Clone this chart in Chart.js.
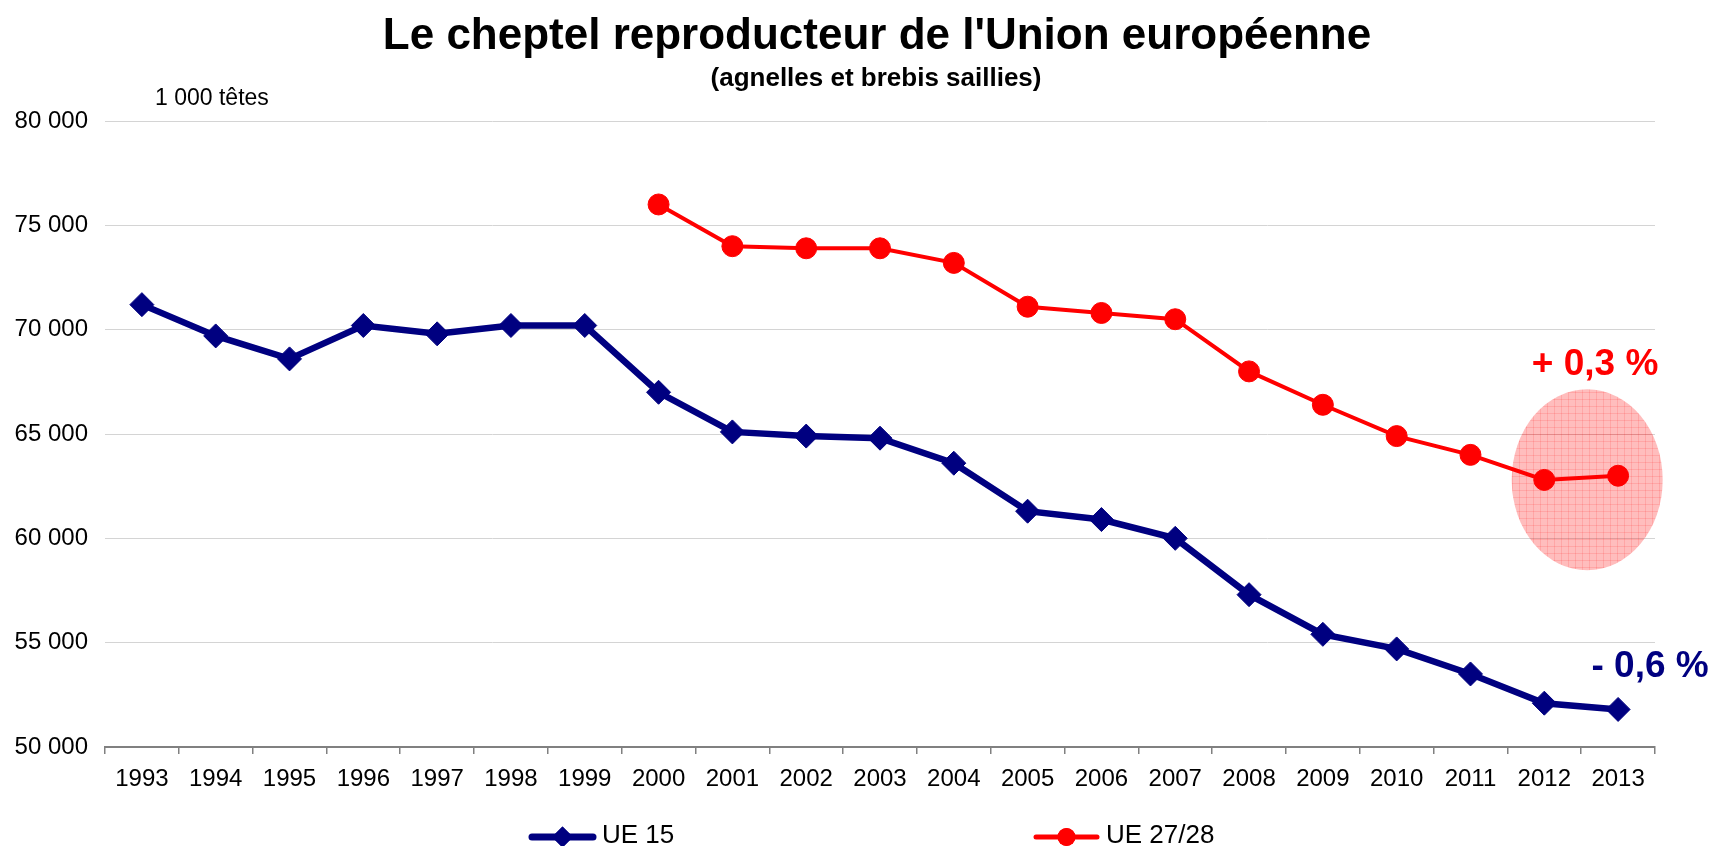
<!DOCTYPE html>
<html>
<head>
<meta charset="utf-8">
<script src="https://cdn.jsdelivr.net/npm/chart.js@4.4.1/dist/chart.umd.min.js"></script>
<style>
  html, body { margin: 0; padding: 0; background: #fff; }
  canvas { display: block; }
</style>
</head>
<body>
<canvas id="cheptelChart" width="1715" height="846"></canvas>
<script>
// ---- data (1 000 têtes) ----
const years = ['1993','1994','1995','1996','1997','1998','1999','2000','2001','2002','2003',
               '2004','2005','2006','2007','2008','2009','2010','2011','2012','2013'];
const ue15 = [71200, 69700, 68600, 70200, 69800, 70200, 70200, 67000, 65100, 64900, 64800,
              63600, 61300, 60900, 60000, 57300, 55400, 54700, 53500, 52100, 51800];
const ue2728 = [null, null, null, null, null, null, null, 76000, 74000, 73900, 73900,
                73200, 71100, 70800, 70500, 68000, 66400, 64900, 64000, 62800, 63000];
const yTicks = { min: 50000, max: 80000, step: 5000 };

const NAVY = '#000080';
const RED = '#ff0000';
const FONT = '"Liberation Sans", Arial, sans-serif';

const fmtThousands = v => String(v).replace(/\B(?=(\d{3})+(?!\d))/g, ' ');
const pctLabel = arr => {
    const n = arr.length; const p = (arr[n - 1] / arr[n - 2] - 1) * 100;
    return (p >= 0 ? '+ ' : '- ') + Math.abs(p).toFixed(1).replace('.', ',') + ' %';
};

// hatched pink fill for the highlight ellipse
function makeHatch() {
    const c = document.createElement('canvas'); c.width = 7; c.height = 7;
    const g = c.getContext('2d');
    g.fillStyle = 'rgba(255,0,0,0.26)'; g.fillRect(0, 0, 7, 7);
    g.fillStyle = 'rgba(255,0,0,0.12)'; g.fillRect(0, 0, 1, 7); g.fillRect(0, 0, 7, 1);
    return c;
}

const decorPlugin = {
    id: 'decor',
    afterDatasetsDraw(chart) {
        const ctx = chart.ctx; const x = chart.scales.x; const y = chart.scales.y;
        const n = years.length;
        const cx = (x.getPixelForValue(n - 2) + x.getPixelForValue(n - 1)) / 2 + 6;
        const cy = (y.getPixelForValue(ue2728[n - 2]) + y.getPixelForValue(ue2728[n - 1])) / 2 + 2;
        ctx.save();
        ctx.fillStyle = ctx.createPattern(makeHatch(), 'repeat');
        ctx.beginPath(); ctx.ellipse(cx, cy, 75.5, 90.5, 0, 0, Math.PI * 2); ctx.fill();
        ctx.restore();
    },
    afterDraw(chart) {
        const ctx = chart.ctx; const x = chart.scales.x; const y = chart.scales.y;
        const n = years.length;
        ctx.save();
        ctx.fillStyle = '#000'; ctx.textAlign = 'center'; ctx.textBaseline = 'alphabetic';
        ctx.font = 'bold 44px ' + FONT;
        ctx.fillText("Le cheptel reproducteur de l'Union européenne", 877, 49);
        ctx.font = 'bold 26px ' + FONT;
        ctx.fillText('(agnelles et brebis saillies)', 876, 86);
        ctx.textAlign = 'left'; ctx.font = '23px ' + FONT;
        ctx.fillText('1 000 têtes', 155, 105);

        // variation labels
        const lx = x.getPixelForValue(n - 1);
        ctx.textAlign = 'center'; ctx.font = 'bold 37px ' + FONT;
        ctx.fillStyle = RED;
        ctx.fillText(pctLabel(ue2728), lx - 23, y.getPixelForValue(ue2728[n - 1]) - 101);
        ctx.fillStyle = NAVY;
        ctx.fillText(pctLabel(ue15), lx + 32, y.getPixelForValue(ue15[n - 1]) - 32);

        // legend: line + marker + label
        const items = [
            { x: 529, ds: chart.data.datasets[0], r: 10.5, lw: 7 },
            { x: 1033, ds: chart.data.datasets[1], r: 9, lw: 5 }
        ];
        const ly = 837;
        items.forEach(it => {
            ctx.strokeStyle = it.ds.borderColor; ctx.lineWidth = it.lw; ctx.lineCap = 'round';
            ctx.beginPath(); ctx.moveTo(it.x + 3, ly); ctx.lineTo(it.x + 64, ly); ctx.stroke();
            ctx.fillStyle = it.ds.borderColor;
            Chart.helpers.drawPoint(ctx, { pointStyle: it.ds.pointStyle, radius: it.r, borderWidth: 0 }, it.x + 33.5, ly);
            ctx.fill();
            ctx.fillStyle = '#000'; ctx.textAlign = 'left'; ctx.font = '26px ' + FONT;
            ctx.fillText(it.ds.label, it.x + 73, 843);
        });
        ctx.restore();
    }
};

new Chart(document.getElementById('cheptelChart'), {
    type: 'line',
    data: {
        labels: years,
        datasets: [
            { label: 'UE 15', data: ue15, borderColor: NAVY, backgroundColor: NAVY, borderWidth: 6.5,
              pointStyle: 'rectRot', pointRadius: 12, pointBorderWidth: 1, pointHoverRadius: 12, tension: 0 },
            { label: 'UE 27/28', data: ue2728, borderColor: RED, backgroundColor: RED, borderWidth: 4,
              pointStyle: 'circle', pointRadius: 10.5, pointBorderWidth: 1, pointHoverRadius: 10.5, tension: 0 }
        ]
    },
    options: {
        responsive: false, devicePixelRatio: 1, animation: false,
        layout: { padding: { left: 0, right: 60, top: 121, bottom: 0 } },
        plugins: { legend: { display: false }, title: { display: false }, tooltip: { enabled: false } },
        scales: {
            x: {
                offset: true,
                grid: { offset: true, drawOnChartArea: false, drawTicks: true, tickLength: 7, color: '#808080', lineWidth: 1.5 },
                border: { display: true, color: '#808080', width: 2 },
                ticks: { color: '#000', font: { family: FONT, size: 24 }, padding: 11, maxRotation: 0, autoSkip: false },
                afterFit: s => { s.height = 99; }
            },
            y: {
                min: yTicks.min, max: yTicks.max,
                grid: { color: '#d4d4d4', lineWidth: 1, drawTicks: false },
                border: { display: false },
                ticks: { stepSize: yTicks.step, color: '#000', font: { family: FONT, size: 24 }, padding: 17,
                         callback: v => fmtThousands(v) },
                afterFit: s => { s.width = 105; }
            }
        }
    },
    plugins: [decorPlugin]
});
</script>
</body>
</html>
